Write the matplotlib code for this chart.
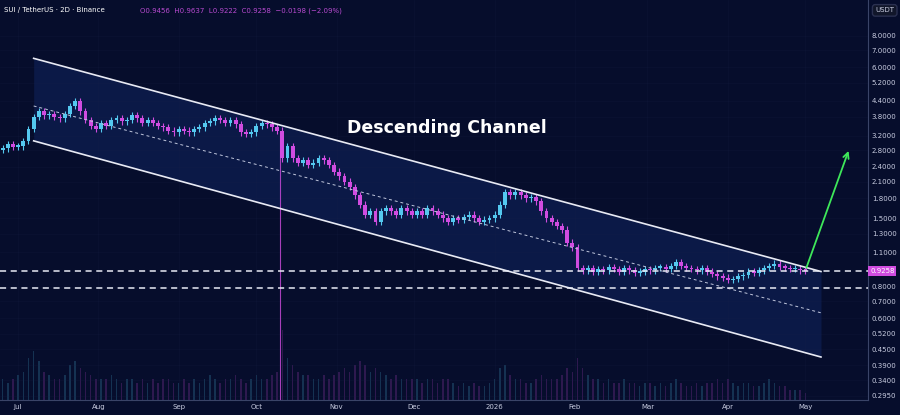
import numpy as np
import pandas as pd
import matplotlib
matplotlib.use("Agg")
import matplotlib.pyplot as plt
import matplotlib.dates as mdates

# 2D closes, Jun 25 2025 -> Apr 30 2026
closes = [2.85, 2.95, 2.88,
          2.9, 3.05, 3.4, 3.8, 4.0, 3.85, 3.9, 3.8, 3.75, 3.9, 4.2, 4.4, 4.0, 3.7, 3.5, 3.4,
          3.6, 3.5, 3.7, 3.75, 3.65, 3.7, 3.85, 3.75, 3.6, 3.7, 3.6, 3.5, 3.45, 3.35, 3.3,
          3.4, 3.35, 3.3, 3.4, 3.45, 3.6, 3.65, 3.75, 3.7, 3.6, 3.7, 3.55, 3.3, 3.25, 3.3,
          3.5, 3.6, 3.55, 3.45, 3.35, 2.6, 2.9, 2.6, 2.5, 2.55, 2.45, 2.5, 2.6, 2.55, 2.45, 2.3,
          2.2, 2.1, 2.0, 1.85, 1.7, 1.55, 1.6, 1.45, 1.6, 1.65, 1.6, 1.55, 1.65, 1.6, 1.55,
          1.6, 1.55, 1.65, 1.6, 1.55, 1.5, 1.45, 1.5, 1.48, 1.52, 1.55, 1.5, 1.45, 1.48, 1.5, 1.55,
          1.7, 1.9, 1.85, 1.9, 1.85, 1.8, 1.82, 1.75, 1.6, 1.5, 1.45, 1.4, 1.35, 1.2, 1.15,
          0.95, 0.93, 0.95, 0.92, 0.94, 0.93, 0.96, 0.94, 0.92, 0.95, 0.93, 0.91, 0.92, 0.94,
          0.93, 0.95, 0.96, 0.94, 0.97, 1.0, 0.97, 0.95, 0.94, 0.93, 0.95, 0.92, 0.90, 0.88, 0.87, 0.85,
          0.86, 0.88, 0.89, 0.92, 0.91, 0.93, 0.95, 0.97, 0.99, 0.96, 0.95, 0.94, 0.945, 0.93, 0.926]
first_open = 2.8
wick_overrides = {"2025-10-10": 0.54}   # crash wick low

volumes = [0.3, 0.25, 0.3,
           0.35, 0.4, 0.6, 0.7, 0.55, 0.4, 0.35, 0.3, 0.3, 0.35, 0.5, 0.55, 0.45, 0.4, 0.35, 0.3,
           0.3, 0.3, 0.35, 0.3, 0.25, 0.3, 0.3, 0.25, 0.3, 0.25, 0.3, 0.25, 0.3, 0.3, 0.25,
           0.25, 0.3, 0.25, 0.3, 0.25, 0.3, 0.35, 0.3, 0.25, 0.3, 0.3, 0.35, 0.3, 0.25, 0.3,
           0.35, 0.3, 0.3, 0.35, 0.4, 1.0, 0.6, 0.5, 0.4, 0.35, 0.35, 0.3, 0.3, 0.35, 0.3, 0.35,
           0.4, 0.45, 0.4, 0.5, 0.55, 0.5, 0.4, 0.45, 0.4, 0.35, 0.3, 0.35, 0.3, 0.3, 0.3,
           0.3, 0.25, 0.3, 0.3, 0.25, 0.3, 0.3, 0.25, 0.2, 0.25, 0.2, 0.25, 0.2, 0.2, 0.25, 0.3,
           0.45, 0.5, 0.35, 0.3, 0.3, 0.25, 0.25, 0.3, 0.35, 0.3, 0.3, 0.3, 0.35, 0.45, 0.4,
           0.6, 0.45, 0.35, 0.3, 0.3, 0.25, 0.3, 0.25, 0.25, 0.3, 0.25, 0.25, 0.2, 0.25,
           0.25, 0.2, 0.25, 0.2, 0.25, 0.3, 0.25, 0.2, 0.2, 0.25, 0.2, 0.25, 0.25, 0.3, 0.25, 0.3,
           0.25, 0.2, 0.25, 0.25, 0.2, 0.2, 0.25, 0.3, 0.25, 0.2, 0.2, 0.15, 0.15, 0.15, 0.1]

dates = pd.date_range("2025-06-25", periods=len(closes), freq="2D")

# channel endpoints (date, price)
ch_start, ch_end = "2025-07-07", "2026-05-07"
upper = [6.5, 0.92]
middle = [4.2, 0.63]
lower = [3.05, 0.42]
h_levels = [0.9258, 0.79]
arrow_from = ("2026-05-01", 0.93)
arrow_to = ("2026-05-18", 2.85)

yticks = [8.0, 7.0, 6.0, 5.2, 4.4, 3.8, 3.2, 2.8, 2.4, 2.1, 1.8, 1.5, 1.3, 1.1,
          0.8, 0.7, 0.6, 0.52, 0.45, 0.39, 0.34, 0.295]
month_ticks = ["2025-07-01", "2025-08-01", "2025-09-01", "2025-10-01", "2025-11-01",
               "2025-12-01", "2026-01-01", "2026-02-01", "2026-03-01", "2026-04-01", "2026-05-01"]
month_labels = ["Jul", "Aug", "Sep", "Oct", "Nov", "Dec", "2026", "Feb", "Mar", "Apr", "May"]

BG = "#060d2c"
BULL = "#54c8ef"
BEAR = "#d04ce0"
TXT = "#c8cce0"

fig = plt.figure(figsize=(9, 4.15), dpi=100, facecolor=BG)
ax = fig.add_axes([0.0, 0.036, 0.964, 0.964], facecolor=BG)
vax = ax.twinx()
vax.set_zorder(0)
ax.set_zorder(1)
ax.patch.set_visible(False)
vax.patch.set_facecolor(BG)

dnum = mdates.date2num(dates)
opens = [first_open] + closes[:-1]
for d, ds, o, c in zip(dnum, dates, opens, closes):
    col = BULL if c >= o else BEAR
    hi = max(o, c) * 1.03
    lo = wick_overrides.get(ds.strftime("%Y-%m-%d"), min(o, c) * 0.97)
    ax.vlines(d, lo, hi, color=col, lw=0.8, zorder=4)
    body_lo, body_hi = min(o, c), max(o, c)
    if body_hi / body_lo < 1.015:
        body_hi = body_lo * 1.015
    ax.bar(d, body_hi - body_lo, bottom=body_lo, width=1.5, color=col, zorder=5)

# crash marker line (below the crash candle)
crash = mdates.date2num(pd.Timestamp("2025-10-10"))
ax.vlines(crash, 0.283, 3.3, color=BEAR, lw=0.8, alpha=0.8, zorder=3)

# volume
vcols = [BULL if c >= o else BEAR for o, c in zip(opens, closes)]
vax.bar(dnum, volumes, width=0.6, color=vcols, alpha=0.2)
vax.set_ylim(0, 5.7)
vax.set_yticks([])

# channel
cx = mdates.date2num(pd.to_datetime([ch_start, ch_end]))
ax.fill_between(cx, lower, upper, color="#10245e", alpha=0.55, zorder=1, lw=0)
ax.plot(cx, upper, color="#e8eaf4", lw=1.2, zorder=6)
ax.plot(cx, lower, color="#e8eaf4", lw=1.2, zorder=6)
ax.plot(cx, middle, color="#c0c6dc", lw=0.7, ls=(0, (3, 3)), zorder=6)
for lv in h_levels:
    ax.axhline(lv, color="#e8eaf4", lw=1.1, ls=(0, (4, 3)), zorder=6)

ax.annotate("", xy=(mdates.date2num(pd.Timestamp(arrow_to[0])), arrow_to[1]),
            xytext=(mdates.date2num(pd.Timestamp(arrow_from[0])), arrow_from[1]),
            arrowprops=dict(arrowstyle="->", color="#3ee85a", lw=1.3), zorder=7)
ax.text(0.515, 0.68, "Descending Channel", transform=ax.transAxes, color="white",
        fontsize=12.5, fontweight="bold", ha="center", va="center", zorder=8)

ax.set_yscale("log")
ax.set_ylim(0.283, 11.1)
ax.set_xlim(mdates.date2num(pd.Timestamp("2025-06-24")), mdates.date2num(pd.Timestamp("2026-05-25")))
ax.yaxis.tick_right()
ax.set_yticks(yticks)
ax.set_yticklabels([f"{v:.4f}" for v in yticks])
ax.minorticks_off()
ax.set_xticks(mdates.date2num(pd.to_datetime(month_ticks)))
ax.set_xticklabels(month_labels)
ax.tick_params(colors=TXT, labelsize=5, length=0, pad=3)
ax.grid(color="#1a2448", lw=0.4, alpha=0.3)
for s in ax.spines.values():
    s.set_visible(False)
for s in vax.spines.values():
    s.set_visible(False)
ax.spines["right"].set_visible(True)
ax.spines["right"].set_color("#3a4468")
ax.spines["bottom"].set_visible(True)
ax.spines["bottom"].set_color("#3a4468")

# last price label
ax.text(1.003, 0.9258, "0.9258", transform=ax.get_yaxis_transform(), fontsize=5, color="white",
        va="center", ha="left", bbox=dict(boxstyle="square,pad=0.25", fc="#d04ce0", ec="none"), zorder=9)
fig.text(0.983, 0.975, "USDT", fontsize=5, color=TXT, ha="center", va="center",
         bbox=dict(boxstyle="round,pad=0.4", fc="#11162a", ec="#2a3050"))
fig.text(0.005, 0.975, "SUI / TetherUS · 2D · Binance", fontsize=5, color="white", va="center")
fig.text(0.155, 0.975, "O0.9456  H0.9637  L0.9222  C0.9258  −0.0198 (−2.09%)", fontsize=5,
         color="#b84ad0", va="center")

fig.savefig("out.png", dpi=100, facecolor=BG)
